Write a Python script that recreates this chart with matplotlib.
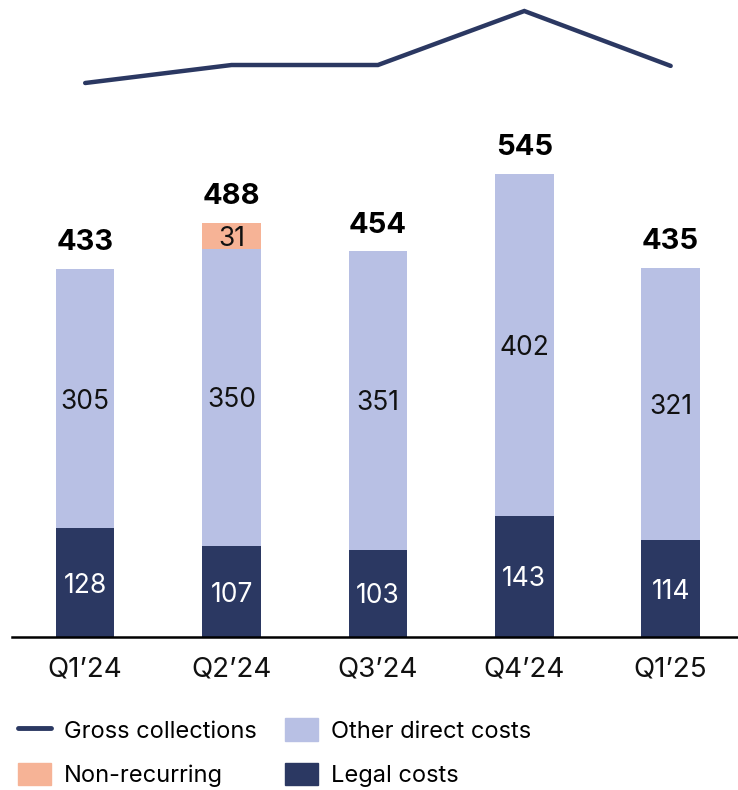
import matplotlib
matplotlib.use("Agg")
import matplotlib.pyplot as plt
from matplotlib.lines import Line2D
from matplotlib.patches import Patch
import numpy as np

plt.rcParams['font.family'] = ['Inter', 'DejaVu Sans']

quarters = ["Q1\u201924", "Q2\u201924", "Q3\u201924", "Q4\u201924", "Q1\u201925"]
legal_costs = [128, 107, 103, 143, 114]
other_direct = [305, 350, 351, 402, 321]
non_recurring = [0, 31, 0, 0, 0]
totals = [433, 488, 454, 545, 435]
gross_collections = [900, 960, 960, 1140, 957]  # no labels on chart; estimated shape

NAVY = "#2B3862"
LAVENDER = "#B8C0E4"
PEACH = "#F6B396"

fig = plt.figure(figsize=(7.38, 7.90), dpi=100)
ax = fig.add_axes([12/738, 153/790, 726/738, 637/790])
x = np.arange(len(quarters))
w = 0.40

ax.bar(x, legal_costs, w, color=NAVY, zorder=2)
ax.bar(x, other_direct, w, bottom=legal_costs, color=LAVENDER, zorder=2)
nr_bottom = [l + o for l, o in zip(legal_costs, other_direct)]
ax.bar(x, non_recurring, w, bottom=nr_bottom, color=PEACH, zorder=2)

for i in range(len(x)):
    ax.text(x[i], legal_costs[i] / 2, str(legal_costs[i]), ha='center', va='center_baseline',
            fontsize=19, color='white')
    ax.text(x[i], legal_costs[i] + other_direct[i] / 2, str(other_direct[i]), ha='center',
            va='center_baseline', fontsize=19, color='#111111')
    if non_recurring[i]:
        ax.text(x[i], nr_bottom[i] + non_recurring[i] / 2, str(non_recurring[i]), ha='center',
                va='center_baseline', fontsize=19, color='#111111')
    top = legal_costs[i] + other_direct[i] + non_recurring[i]
    ax.text(x[i], top + 15, str(totals[i]), ha='center', va='bottom', fontsize=21,
            fontweight='bold', color='black')

ax.set_xlim(-0.5, 4.46)
ax.set_ylim(0, 750)
ax.set_yticks([])
ax.set_xticks(x)
ax.set_xticklabels(quarters, fontsize=20, color='#111111')
ax.tick_params(axis='x', length=0, pad=14)
for s in ['top', 'right', 'left']:
    ax.spines[s].set_visible(False)
ax.spines['bottom'].set_linewidth(1.8)
ax.spines['bottom'].set_color('black')

ax2 = ax.twinx()
ax2.plot(x, gross_collections, color=NAVY, lw=3.2, solid_capstyle='round',
         solid_joinstyle='miter', zorder=3)
ax2.set_ylim(-946.7, 1176.7)
ax2.axis('off')

handles = [Line2D([0], [0], color=NAVY, lw=3.5, solid_capstyle='round'),
           Patch(color=PEACH),
           Patch(color=LAVENDER),
           Patch(color=NAVY)]
labels = ["Gross collections", "Non-recurring", "Other direct costs", "Legal costs"]
fig.legend(handles, labels, loc='lower left', bbox_to_anchor=(18/738, 3/790), ncol=2,
           frameon=False, fontsize=17, handlelength=1.4, handleheight=1.1,
           handletextpad=0.55, columnspacing=1.2, labelspacing=0.85,
           borderpad=0, borderaxespad=0)

fig.savefig("out.png", dpi=100)
